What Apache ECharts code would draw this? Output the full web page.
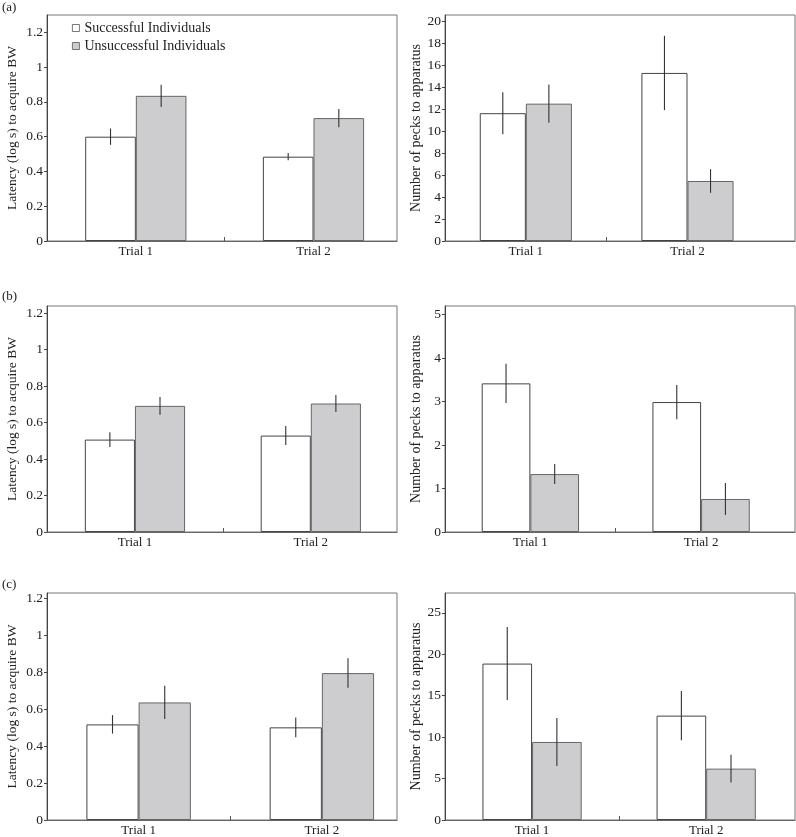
<!DOCTYPE html>
<html><head><meta charset="utf-8">
<script src="https://cdn.jsdelivr.net/npm/echarts@6/dist/echarts.min.js"></script>
<style>html,body{margin:0;padding:0;background:#fff}#c{width:796px;height:837px}</style>
</head><body><div id="c"></div>
<script>
// ---- data ----
const trials = ['Trial 1', 'Trial 2'];
const seriesNames = ['Successful Individuals', 'Unsuccessful Individuals'];
const latencyName = 'Latency (log s) to acquire BW';
const pecksName = 'Number of pecks to apparatus';
const panelLabels = ['(a)', '(b)', '(c)'];

const latencyTicks = [0, 0.2, 0.4, 0.6, 0.8, 1, 1.2];
const pecksTicksA = [0, 2, 4, 6, 8, 10, 12, 14, 16, 18, 20];
const pecksTicksB = [0, 1, 2, 3, 4, 5];
const pecksTicksC = [0, 5, 10, 15, 20, 25];

// (a)
const aLatSucc = [0.60, 0.485];   const aLatSuccErr = [0.047, 0.021];
const aLatUns  = [0.835, 0.707];  const aLatUnsErr  = [0.064, 0.053];
const aPeckSucc = [11.65, 15.32]; const aPeckSuccErr = [1.91, 3.39];
const aPeckUns  = [12.52, 5.47];  const aPeckUnsErr  = [1.74, 1.08];
// (b)
const bLatSucc = [0.507, 0.529];  const bLatSuccErr = [0.040, 0.052];
const bLatUns  = [0.692, 0.705];  const bLatUnsErr  = [0.049, 0.046];
const bPeckSucc = [3.42, 2.99];   const bPeckSuccErr = [0.45, 0.395];
const bPeckUns  = [1.333, 0.76];  const bPeckUnsErr  = [0.23, 0.37];
// (c)
const cLatSucc = [0.518, 0.502];  const cLatSuccErr = [0.050, 0.053];
const cLatUns  = [0.637, 0.796];  const cLatUnsErr  = [0.090, 0.080];
const cPeckSucc = [18.88, 12.6];  const cPeckSuccErr = [4.41, 2.98];
const cPeckUns  = [9.42, 6.2];    const cPeckUnsErr  = [2.9, 1.67];

// ---- layout / style ----
const FONT = 'Liberation Serif, Times New Roman, serif';
const BAR_FRAC = 0.285;
const panels = [
  {grid:{left:47, top:15, width:350, height:226}, ticks:latencyTicks, yMax:1.3, xMax:2.47, name:latencyName, nameGap:28, nameSize:13.5,
   s:aLatSucc, se:aLatSuccErr, u:aLatUns, ue:aLatUnsErr},
  {grid:{left:445, top:15, width:350, height:226}, ticks:pecksTicksA, yMax:20.6, xMax:2.665, name:pecksName, nameGap:22, nameSize:14,
   s:aPeckSucc, se:aPeckSuccErr, u:aPeckUns, ue:aPeckUnsErr},
  {grid:{left:47, top:306, width:350, height:226}, ticks:latencyTicks, yMax:1.24, xMax:2.49, name:latencyName, nameGap:28, nameSize:13.5,
   s:bLatSucc, se:bLatSuccErr, u:bLatUns, ue:bLatUnsErr},
  {grid:{left:445, top:306, width:350, height:226}, ticks:pecksTicksB, yMax:5.2, xMax:2.55, name:pecksName, nameGap:22, nameSize:14,
   s:bPeckSucc, se:bPeckSuccErr, u:bPeckUns, ue:bPeckUnsErr},
  {grid:{left:47, top:593, width:350, height:227}, ticks:latencyTicks, yMax:1.23, xMax:2.41, name:latencyName, nameGap:28, nameSize:13.5,
   s:cLatSucc, se:cLatSuccErr, u:cLatUns, ue:cLatUnsErr},
  {grid:{left:445, top:593, width:350, height:227}, ticks:pecksTicksC, yMax:27.4, xMax:2.51, name:pecksName, nameGap:22, nameSize:14,
   s:cPeckSucc, se:cPeckSuccErr, u:cPeckUns, ue:cPeckUnsErr}
];

const grids = [], xAxes = [], yAxes = [], series = [];
const xPos = trials.map((t, k) => k + 1);

function errSeries(i, vals, errs, sign) {
  return {
    type: 'custom', xAxisIndex: i, yAxisIndex: i, z: 5, silent: true,
    data: vals.map((v, k) => [xPos[k], v, errs[k]]),
    renderItem: (params, api) => {
      const x = api.value(0), v = api.value(1), e = api.value(2);
      const unit = api.size([1, 0])[0];
      const off = sign * unit * BAR_FRAC / 2;
      const p1 = api.coord([x, v + e]);
      const p2 = api.coord([x, v - e]);
      return {type: 'line', shape: {x1: p1[0] + off, y1: p1[1], x2: p2[0] + off, y2: p2[1]},
              style: {stroke: '#333', lineWidth: 1.1}};
    }
  };
}

panels.forEach((p, i) => {
  grids.push(Object.assign({show: true, borderColor: '#777', borderWidth: 1, backgroundColor: 'transparent'}, p.grid));
  xAxes.push({
    type: 'value', gridIndex: i, min: 0.5, max: p.xMax,
    splitLine: {show: false},
    axisLine: {show: true, lineStyle: {color: '#666', width: 1}},
    axisTick: {show: true, inside: true, length: 4, customValues: [1.5], lineStyle: {color: '#555'}},
    axisLabel: {customValues: xPos, formatter: v => trials[Math.round(v) - 1] || '',
                fontFamily: FONT, fontSize: 13, color: '#222', margin: 4}
  });
  yAxes.push({
    type: 'value', gridIndex: i, min: 0, max: p.yMax,
    name: p.name, nameLocation: 'middle', nameGap: p.nameGap,
    nameTextStyle: {fontFamily: FONT, fontSize: p.nameSize, color: '#222'},
    splitLine: {show: false},
    axisLine: {show: true, lineStyle: {color: '#444', width: 1}},
    axisTick: {show: true, inside: false, length: 3, customValues: p.ticks, lineStyle: {color: '#444'}},
    axisLabel: {customValues: p.ticks, fontFamily: FONT, fontSize: 13.5, color: '#222', margin: 4}
  });
  series.push({
    name: seriesNames[0], type: 'bar', xAxisIndex: i, yAxisIndex: i,
    barWidth: (BAR_FRAC * 100) + '%', barGap: '0%',
    itemStyle: {color: '#ffffff', borderColor: '#444', borderWidth: 1},
    data: p.s.map((v, k) => [xPos[k], v])
  });
  series.push({
    name: seriesNames[1], type: 'bar', xAxisIndex: i, yAxisIndex: i,
    barWidth: (BAR_FRAC * 100) + '%', barGap: '0%',
    itemStyle: {color: '#cdcdcf', borderColor: '#666', borderWidth: 1},
    data: p.u.map((v, k) => [xPos[k], v])
  });
  series.push(errSeries(i, p.s, p.se, -1));
  series.push(errSeries(i, p.u, p.ue, 1));
});

const chart = echarts.init(document.getElementById('c'), null, {renderer: 'canvas'});
chart.setOption({
  animation: false,
  backgroundColor: '#fff',
  grid: grids, xAxis: xAxes, yAxis: yAxes, series: series,
  legend: {
    data: seriesNames, orient: 'vertical', left: 67, top: 16, icon: 'rect',
    itemWidth: 7, itemHeight: 7, itemGap: 4, selectedMode: false,
    itemStyle: {borderWidth: 0.8, borderColor: '#555'},
    textStyle: {fontFamily: FONT, fontSize: 14, color: '#222'}
  },
  graphic: [
    {type: 'text', left: 2, top: 1, style: {text: panelLabels[0], font: '13px ' + FONT, fill: '#222'}},
    {type: 'text', left: 2, top: 290, style: {text: panelLabels[1], font: '13px ' + FONT, fill: '#222'}},
    {type: 'text', left: 2, top: 578, style: {text: panelLabels[2], font: '13px ' + FONT, fill: '#222'}}
  ]
});
</script></body></html>
